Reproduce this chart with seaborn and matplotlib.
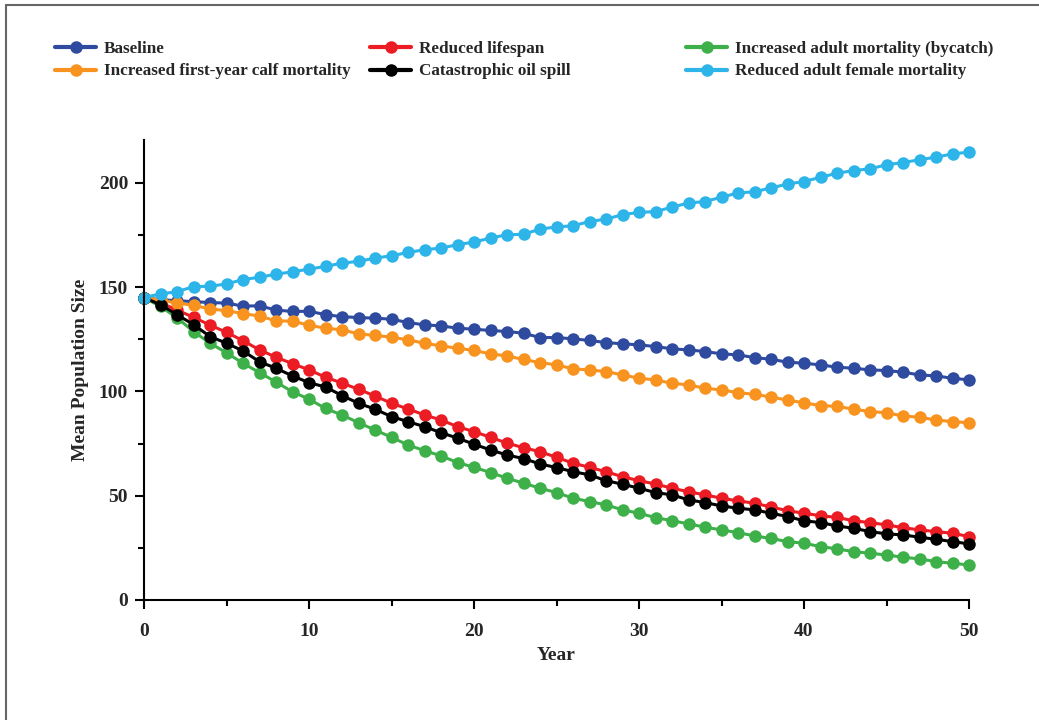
import numpy as np
import pandas as pd
import matplotlib
matplotlib.use('Agg')
import matplotlib.pyplot as plt
from matplotlib.lines import Line2D
import seaborn as sns

# Datos (media de la poblacion por anio)
years = list(range(0, 51))

baseline = [145, 143.9, 143.5, 143, 142.6, 142.3, 140.9, 141, 139, 138.3,
            138.4, 136.8, 135.8, 135.4, 135.1, 134.6, 133, 131.9, 131.4, 130.3,
            129.8, 129.2, 128.7, 127.9, 125.8, 125.8, 125.2, 124.4, 123.4, 122.8,
            122.3, 121.5, 120.4, 119.9, 119.1, 118, 117.5, 116.2, 115.4, 114,
            113.5, 112.7, 111.6, 111.1, 110.3, 110, 109.2, 107.9, 107.4, 106.3,
            105.5]
reduced_lifespan = [145, 142.5, 139, 135.5, 131.8, 128.3, 124.3, 119.9, 116.4, 113.3,
                    110.3, 106.8, 104, 101, 97.8, 94.3, 91.6, 88.7, 86.3, 83.1,
                    80.7, 78, 75.2, 73, 71.1, 68.4, 65.6, 63.6, 61.5, 59.1,
                    57.2, 55.6, 53.6, 51.9, 50.4, 48.8, 47.5, 46.4, 44.6, 42.8,
                    41.6, 40.4, 39.6, 38, 37.1, 36, 34.7, 33.6, 32.8, 32,
                    30.4]
bycatch = [145, 140.7, 135.3, 128.7, 123.1, 118.5, 113.5, 109, 104.5, 99.8,
           96.3, 91.8, 88.7, 85, 81.5, 78, 74.3, 71.6, 69.1, 65.9,
           63.6, 61.1, 58.4, 56, 53.6, 51.5, 48.8, 47.2, 45.6, 43.2,
           41.6, 39.5, 38, 36.5, 34.9, 33.6, 32.3, 30.7, 29.5, 28,
           27.2, 25.6, 24.5, 23.2, 22.4, 21.6, 20.5, 19.7, 18.4, 17.6,
           16.8]
calf_mortality = [145, 143.8, 142.3, 141.3, 139.5, 138.7, 137.3, 136.1, 133.8, 133.7,
                  131.7, 130.3, 129.5, 127.6, 126.8, 126, 124.7, 123.1, 121.8, 120.7,
                  119.6, 118, 117, 115.3, 113.8, 112.7, 110.8, 110.3, 109.5, 107.9,
                  106.3, 105.5, 103.9, 103.1, 101.5, 100.7, 99.4, 98.6, 97.3, 95.8,
                  94.5, 93.2, 92.8, 91.5, 90.3, 89.8, 88.2, 87.6, 86.3, 85.5,
                  85]
oil_spill = [145, 141.5, 136.8, 132, 126.3, 123.1, 119.4, 114.2, 111.1, 107.4,
             104.2, 102.1, 98, 94.3, 91.5, 87.9, 85.5, 83.1, 80.2, 77.6,
             74.7, 71.9, 69.5, 67.8, 65.2, 63.5, 61.5, 60, 57.2, 55.5,
             53.6, 51.5, 50.4, 48, 46.7, 45.1, 44, 43.2, 41.6, 40,
             38, 37.1, 35.5, 34.4, 32.8, 31.7, 31.2, 30.1, 29.1, 28,
             26.9]
female_mortality = [145, 146.7, 147.8, 150.2, 150.4, 151.5, 153.6, 154.7, 156.2, 157.3,
                    158.6, 159.9, 161.5, 162.3, 163.9, 165, 166.6, 167.9, 168.7, 170.3,
                    171.6, 173.5, 175.1, 175.3, 177.8, 178.8, 179.4, 181.4, 182.6, 184.7,
                    185.8, 186.2, 188.3, 190.3, 191, 193.1, 195.1, 195.7, 197.5, 199.4,
                    200.6, 202.6, 204.6, 205.8, 206.7, 208.6, 209.7, 211, 212.3, 213.8,
                    214.7]

series = [
    ('Baseline', baseline, '#2f4b9f'),
    ('Reduced lifespan', reduced_lifespan, '#ec1c24'),
    ('Increased adult mortality (bycatch)', bycatch, '#3eb049'),
    ('Increased first-year calf mortality', calf_mortality, '#f7931e'),
    ('Catastrophic oil spill', oil_spill, '#000000'),
    ('Reduced adult female mortality', female_mortality, '#2db4e8'),
]

sns.set_style('ticks')
plt.rcParams['font.family'] = ['Liberation Serif', 'DejaVu Serif']
plt.rcParams['font.weight'] = 'bold'

fig = plt.figure(figsize=(10.39, 7.2), dpi=100)
ax = fig.add_axes([144 / 1039, 1 - 600 / 720, 825 / 1039, 460 / 720])

for name, vals, col in series:
    sns.lineplot(x=years, y=vals, color=col, marker='o', markersize=9,
                 markeredgewidth=0, linewidth=2.2, label=name, ax=ax,
                 clip_on=False)

ax.set_xlim(0, 50)
ax.set_ylim(0, 220.5)
ax.set_xticks([0, 10, 20, 30, 40, 50])
ax.set_xticks([5, 15, 25, 35, 45], minor=True)
ax.set_yticks([0, 50, 100, 150, 200])
ax.set_yticks([25, 75, 125, 175], minor=True)
ax.tick_params(which='major', direction='out', length=6.5, width=1.5,
               labelsize=14, color='black')
ax.tick_params(axis='x', which='major', pad=10)
ax.tick_params(axis='y', which='major', pad=5)
ax.tick_params(which='minor', direction='out', length=4, width=1.5,
               color='black')
for lab in ax.get_xticklabels() + ax.get_yticklabels():
    lab.set_fontweight('bold')
sns.despine(ax=ax)
for sp in ['left', 'bottom']:
    ax.spines[sp].set_linewidth(1.5)
    ax.spines[sp].set_color('black')

ax.set_xlabel('Year', fontsize=14, fontweight='bold', labelpad=5)
ax.set_ylabel('Mean Population Size', fontsize=14, fontweight='bold', labelpad=7)

# Leyenda en tres grupos de dos filas
handles, labels = ax.get_legend_handles_labels()
ax.get_legend().remove()
groups = [(0, 3), (1, 4), (2, 5)]
xs = [55, 370, 686]
for (i, j), x0 in zip(groups, xs):
    leg = fig.legend([handles[i], handles[j]], [labels[i], labels[j]],
                     loc='upper left', bbox_to_anchor=(x0 / 1039, 1 - 41 / 720),
                     frameon=False, borderpad=0, borderaxespad=0,
                     handlelength=2.4, handletextpad=0.45, labelspacing=0.38,
                     prop={'size': 12.3, 'weight': 'bold'})
    for h in leg.legend_handles:
        h.set_linewidth(3)

# Borde gris de la imagen
fig.add_artist(Line2D([6 / 1039, 6 / 1039], [0, 1 - 5 / 720],
                      transform=fig.transFigure, color='#666666', linewidth=1.5))
fig.add_artist(Line2D([6 / 1039, 1], [1 - 5 / 720, 1 - 5 / 720],
                      transform=fig.transFigure, color='#666666', linewidth=1.5))

fig.savefig('out.png', dpi=100)
